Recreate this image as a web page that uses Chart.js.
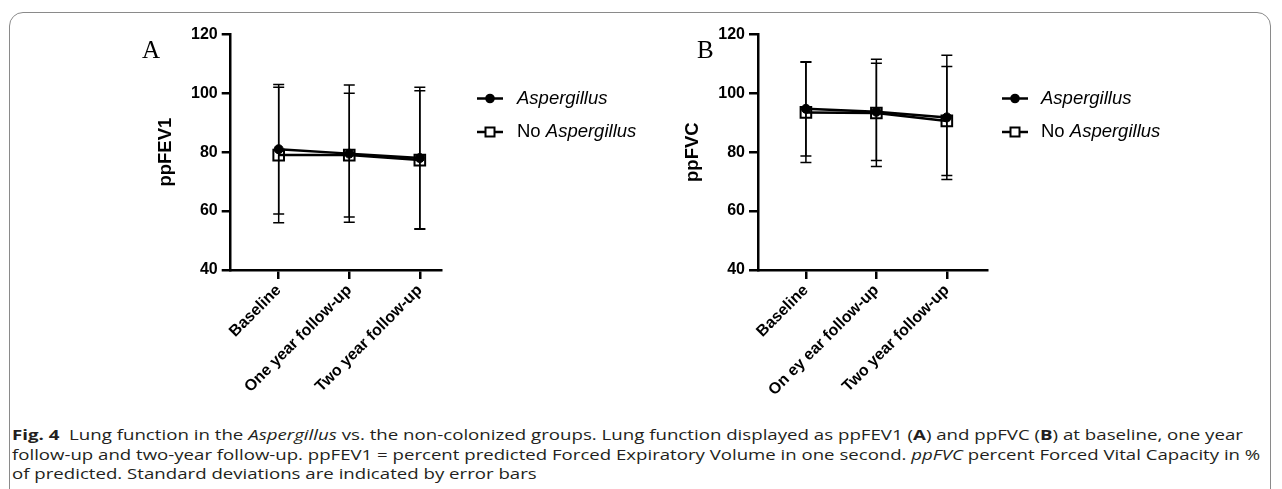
<!DOCTYPE html>
<html>
<head>
<meta charset="utf-8">
<script src="https://cdn.jsdelivr.net/npm/chart.js@4"></script>
<style>
body { margin: 0; background: #fff; }
#wrap { position: relative; width: 1282px; height: 489px; overflow: hidden; background: #fff; }
#frame { position: absolute; left: 9px; top: 12px; width: 1262px; height: 520px; border: 1.3px solid #8a8a8a; border-radius: 14px; box-sizing: border-box; }
canvas { position: absolute; top: 0; }
.panel { position: absolute; font-family: "Liberation Serif", serif; font-size: 25px; line-height: 25px; color: #000; }
.cap { position: absolute; left: 12px; font-family: "Open Sans", sans-serif; font-size: 15px; line-height: 19px; color: #231f20; white-space: nowrap; transform-origin: 0 0; }
</style>
</head>
<body>
<div id="wrap">
  <div id="frame"></div>
  <canvas id="chartA" width="640" height="410" style="left:0"></canvas>
  <canvas id="chartB" width="642" height="410" style="left:640px"></canvas>
  <div class="panel" style="left:142px; top:37px">A</div>
  <div class="panel" style="left:697px; top:37px">B</div>
  <div class="cap" id="cap1" style="top:425px"><b>Fig. 4</b>&nbsp; Lung function in the <i>Aspergillus</i> vs. the non-colonized groups. Lung function displayed as ppFEV1 (<b>A</b>) and ppFVC (<b>B</b>) at baseline, one year</div>
  <div class="cap" id="cap2" style="top:445px">follow-up and two-year follow-up. ppFEV1 = percent predicted Forced Expiratory Volume in one second. <i>ppFVC</i> percent Forced Vital Capacity in %</div>
  <div class="cap" id="cap3" style="top:464px">of predicted. Standard deviations are indicated by error bars</div>
</div>
<script>
// time points
const categoriesA = ['Baseline', 'One year follow-up', 'Two year follow-up']
const categoriesB = ['Baseline', 'On ey ear follow-up', 'Two year follow-up']

// ppFEV1 (panel A), mean and SD
const fev1Asp = [81, 79.5, 78]
const fev1AspSD = [22, 23.3, 24]
const fev1No = [79, 79, 77.3]
const fev1NoSD = [23, 21, 23.5]

// ppFVC (panel B), mean and SD
const fvcAsp = [94.7, 93.7, 91.8]
const fvcAspSD = [16, 16.5, 21.1]
const fvcNo = [93.5, 93.3, 90.6]
const fvcNoSD = [17, 18.2, 18.5]

const yTicks = [40, 60, 80, 100, 120]
const seriesNames = ['Aspergillus', 'No Aspergillus']

const tickFont = { family: 'Liberation Sans', size: 16, weight: 'bold' }

// error bars drawn under the symbols
const errorBars = {
  id: 'errorBars',
  beforeDatasetsDraw(chart) {
    const { ctx, scales: { x, y } } = chart
    ctx.save()
    ctx.strokeStyle = '#000'
    ctx.lineWidth = 1.5
    chart.data.datasets.forEach(ds => {
      ds.data.forEach((p, i) => {
        const px = x.getPixelForValue(p.x)
        const top = y.getPixelForValue(p.y + ds.sd[i])
        const bot = y.getPixelForValue(p.y - ds.sd[i])
        ctx.beginPath()
        ctx.moveTo(px, top); ctx.lineTo(px, bot)
        ctx.moveTo(px - 5.5, top); ctx.lineTo(px + 5.5, top)
        ctx.moveTo(px - 5.5, bot); ctx.lineTo(px + 5.5, bot)
        ctx.stroke()
      })
    })
    ctx.restore()
  }
}

// legend to the right, line + symbol + label (genus in italics)
const sideLegend = {
  id: 'sideLegend',
  afterDraw(chart, args, opts) {
    const ctx = chart.ctx
    ctx.save()
    chart.data.datasets.forEach((ds, i) => {
      const y = opts.y + i * opts.gap
      ctx.strokeStyle = '#000'
      ctx.lineWidth = 2.5
      ctx.beginPath()
      ctx.moveTo(opts.x, y); ctx.lineTo(opts.x + 26, y)
      ctx.stroke()
      const mx = opts.x + 13
      if (ds.pointStyle === 'circle') {
        ctx.fillStyle = '#000'
        ctx.beginPath(); ctx.arc(mx, y, 4.8, 0, Math.PI * 2); ctx.fill()
      } else {
        ctx.fillStyle = '#fff'
        ctx.lineWidth = 2
        ctx.fillRect(mx - 4.5, y - 4.5, 9, 9)
        ctx.strokeRect(mx - 4.5, y - 4.5, 9, 9)
      }
      let tx = opts.textX
      ctx.fillStyle = '#000'
      ctx.textBaseline = 'middle'
      ds.label.split(' ').forEach((w, k, arr) => {
        const word = k < arr.length - 1 ? w + ' ' : w
        ctx.font = (w === 'Aspergillus' ? 'italic ' : '') + '18.5px "Liberation Sans"'
        ctx.fillText(word, tx, y)
        tx += ctx.measureText(word).width
      })
    })
    ctx.restore()
  }
}

function makeChart(id, cats, asp, aspSD, no, noSD, title, xmax, pad, legend) {
  return new Chart(document.getElementById(id), {
    type: 'line',
    data: {
      datasets: [{
        label: seriesNames[0],
        data: asp.map((v, i) => ({ x: i, y: v })),
        sd: aspSD,
        borderColor: '#000',
        borderWidth: 2.5,
        pointStyle: 'circle',
        pointRadius: 4.5,
        pointBackgroundColor: '#000',
        pointBorderColor: '#000',
        pointBorderWidth: 1
      }, {
        label: seriesNames[1],
        data: no.map((v, i) => ({ x: i, y: v })),
        sd: noSD,
        borderColor: '#000',
        borderWidth: 2.5,
        pointStyle: 'rect',
        pointRadius: 7.5,
        pointBackgroundColor: 'rgba(0,0,0,0)',
        pointBorderColor: '#000',
        pointBorderWidth: 2
      }]
    },
    options: {
      responsive: false,
      animation: false,
      layout: { padding: pad },
      plugins: {
        legend: { display: false },
        tooltip: { enabled: false },
        sideLegend: legend
      },
      scales: {
        x: {
          type: 'linear',
          min: -0.68,
          max: xmax,
          afterBuildTicks: s => { s.ticks = cats.map((c, i) => ({ value: i })) },
          afterFit: s => { s.height = 130 },
          border: { color: '#000', width: 2.5 },
          grid: { drawOnChartArea: false, color: '#000', lineWidth: 2.5, tickLength: 9 },
          ticks: {
            color: '#000',
            font: tickFont,
            minRotation: 45,
            maxRotation: 45,
            padding: 2,
            autoSkip: false,
            callback: v => cats[v]
          }
        },
        y: {
          min: 40,
          max: 120,
          afterBuildTicks: s => { s.ticks = yTicks.map(v => ({ value: v })) },
          afterFit: s => { s.width = 76 },
          border: { color: '#000', width: 2.5 },
          grid: { drawOnChartArea: false, color: '#000', lineWidth: 2.5, tickLength: 9 },
          ticks: { color: '#000', font: tickFont, padding: 4 },
          title: {
            display: true,
            text: title,
            color: '#000',
            font: { family: 'Liberation Sans', size: 18.5, weight: 'bold' },
            padding: 0
          }
        }
      }
    },
    plugins: [errorBars, sideLegend]
  })
}

makeChart('chartA', categoriesA, fev1Asp, fev1AspSD, fev1No, fev1NoSD, 'ppFEV1', 2.3,
  { left: 154.7, top: 34.3, right: 199, bottom: 10 },
  { x: 477, y: 98.5, gap: 33.5, textX: 517 })

makeChart('chartB', categoriesB, fvcAsp, fvcAspSD, fvcNo, fvcNoSD, 'ppFVC', 2.57,
  { left: 42, top: 34.3, right: 642 - 347, bottom: 10 },
  { x: 1002 - 640, y: 98.5, gap: 33.5, textX: 1041 - 640 })

// stretch caption lines to the widths in the figure
function fitCap(id, w) {
  const el = document.getElementById(id)
  el.style.transform = 'scaleX(' + (w / el.offsetWidth) + ')'
  return w / el.offsetWidth
}
const s1 = fitCap('cap1', 1231)
const s2 = fitCap('cap2', 1248)
document.getElementById('cap3').style.transform = 'scaleX(' + ((s1 + s2) / 2) + ')'
</script>
</body>
</html>
